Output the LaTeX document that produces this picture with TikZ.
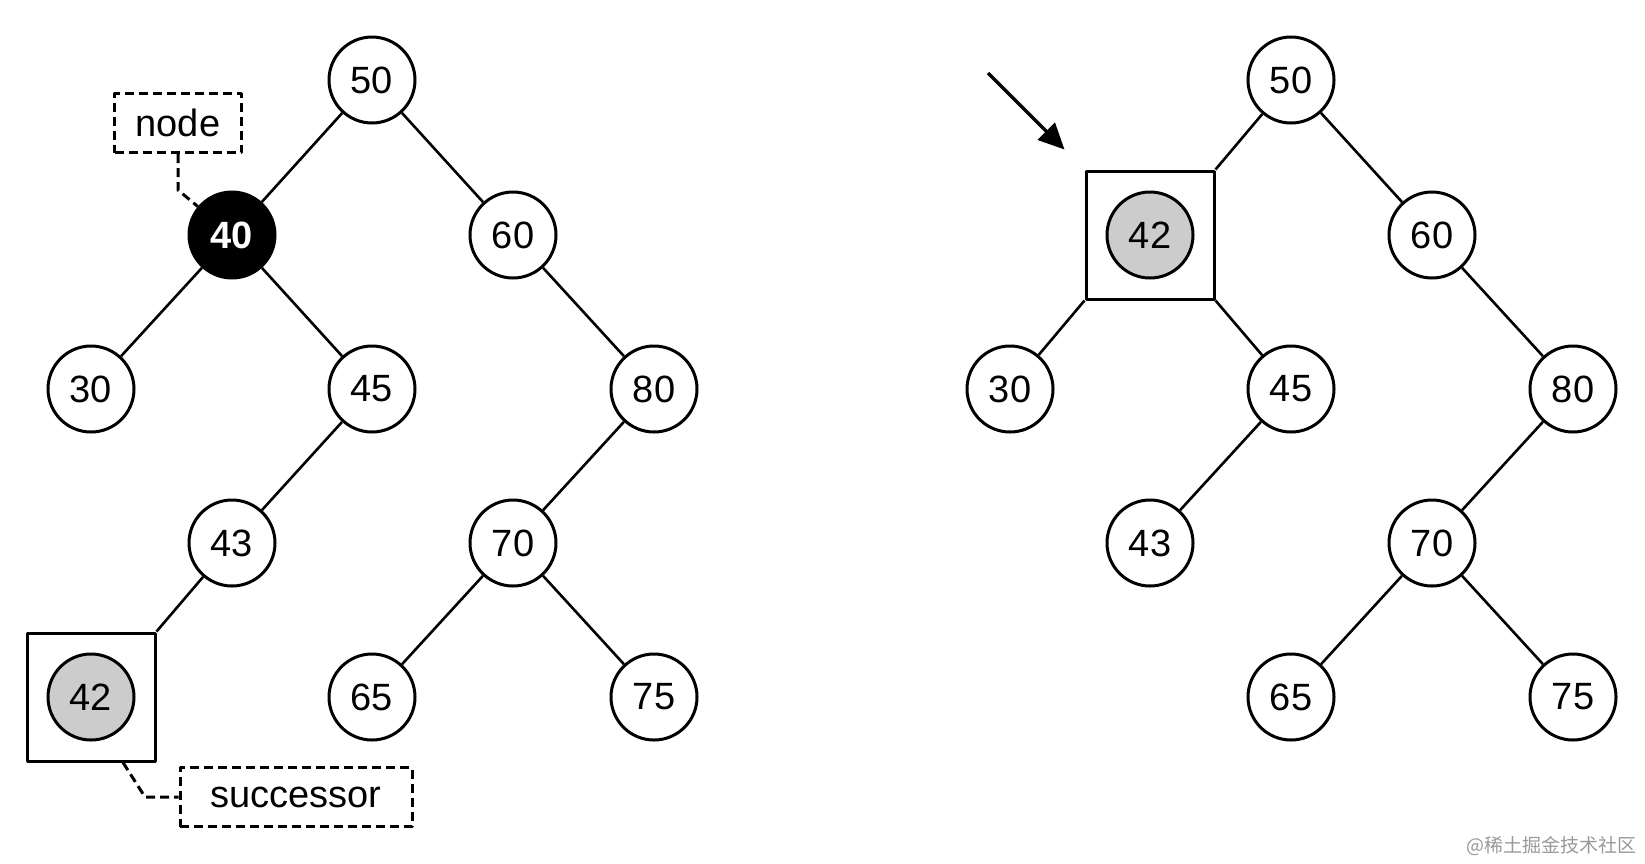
\documentclass[tikz,border=0pt]{standalone}
\usepackage{fontspec}
\setmainfont{Liberation Sans}
\newfontfamily\cjkfont{Noto Sans CJK SC}
\usetikzlibrary{arrows.meta}
\definecolor{keygray}{HTML}{CCCCCC}
\definecolor{markgray}{HTML}{999999}

\begin{document}
\begin{tikzpicture}[x=1pt,y=-1pt,line join=round,
  key/.style={circle,draw,line width=3pt,minimum size=86pt,inner sep=0pt,fill=white,font=\fontsize{38}{44}\selectfont},
  curkey/.style={key,fill=black,text=white,font=\fontsize{38}{44}\selectfont\bfseries},
  succkey/.style={key,fill=keygray},
  sqbox/.style={rectangle,draw,line width=3pt,minimum size=128pt,inner sep=0pt},
  tag/.style={rectangle,draw,dashed,dash pattern=on 9pt off 5pt,line width=3pt,inner sep=0pt,font=\fontsize{38}{44}\selectfont},
  edge/.style={line width=2.6pt},
  pointer/.style={dashed,dash pattern=on 9pt off 5pt,line width=3pt}]
\useasboundingbox (0,0) rectangle (1645,863);
% left tree: before removal
\node[key] (L50) at (372,80) {50};
\node[curkey] (L40) at (232,235) {40};
\node[key] (L60) at (513,235) {60};
\node[key] (L30) at (91,389) {30};
\node[key] (L45) at (372,389) {45};
\node[key] (L80) at (654,389) {80};
\node[key] (L43) at (232,543) {43};
\node[key] (L70) at (513,543) {70};
\node[sqbox] (Lbox) at (91,697) {};
\node[succkey] (L42) at (91,697) {42};
\node[key] (L65) at (372,697) {65};
\node[key] (L75) at (654,697) {75};
\foreach \a/\b in {50/40,50/60,40/30,40/45,60/80,45/43,80/70,70/65,70/75}
  \draw[edge] (L\a) -- (L\b);
\draw[edge] (L43) -- (Lbox.north east);
% labels
\node[tag,minimum width=127pt,minimum height=59pt] (nodetag) at (178,123) {node};
\node[tag,minimum width=232pt,minimum height=59pt] (succtag) at (296,797) {successor};
\coordinate (k1) at (178,190);
\coordinate (k2) at (145,797);
\draw[pointer] (nodetag.south) -- (k1) -- (L40);
\draw[pointer] ([xshift=32pt]Lbox.south) -- (k2) -- (succtag.west);
% right tree: successor moved up
\node[key] (R50) at (1291,80) {50};
\node[sqbox] (Rbox) at (1150,235) {};
\node[succkey] (R42) at (1150,235) {42};
\node[key] (R60) at (1432,235) {60};
\node[key] (R30) at (1010,389) {30};
\node[key] (R45) at (1291,389) {45};
\node[key] (R80) at (1573,389) {80};
\node[key] (R43) at (1150,543) {43};
\node[key] (R70) at (1432,543) {70};
\node[key] (R65) at (1291,697) {65};
\node[key] (R75) at (1573,697) {75};
\foreach \a/\b in {50/60,60/80,45/43,80/70,70/65,70/75}
  \draw[edge] (R\a) -- (R\b);
\draw[edge] (R50) -- (Rbox.north east);
\draw[edge] (Rbox.south west) -- (R30);
\draw[edge] (Rbox.south east) -- (R45);
\coordinate (arrowtail) at (988,73);
\draw[line width=3.2pt,-{Triangle[length=26pt,width=24pt]}] (arrowtail) -- ([shift={(-20,-20)}]Rbox.north west);
\node[text=markgray,font=\cjkfont\fontsize{19}{22}\selectfont,anchor=east] (mark) at (1640,846) {@稀土掘金技术社区};
\end{tikzpicture}
\end{document}
